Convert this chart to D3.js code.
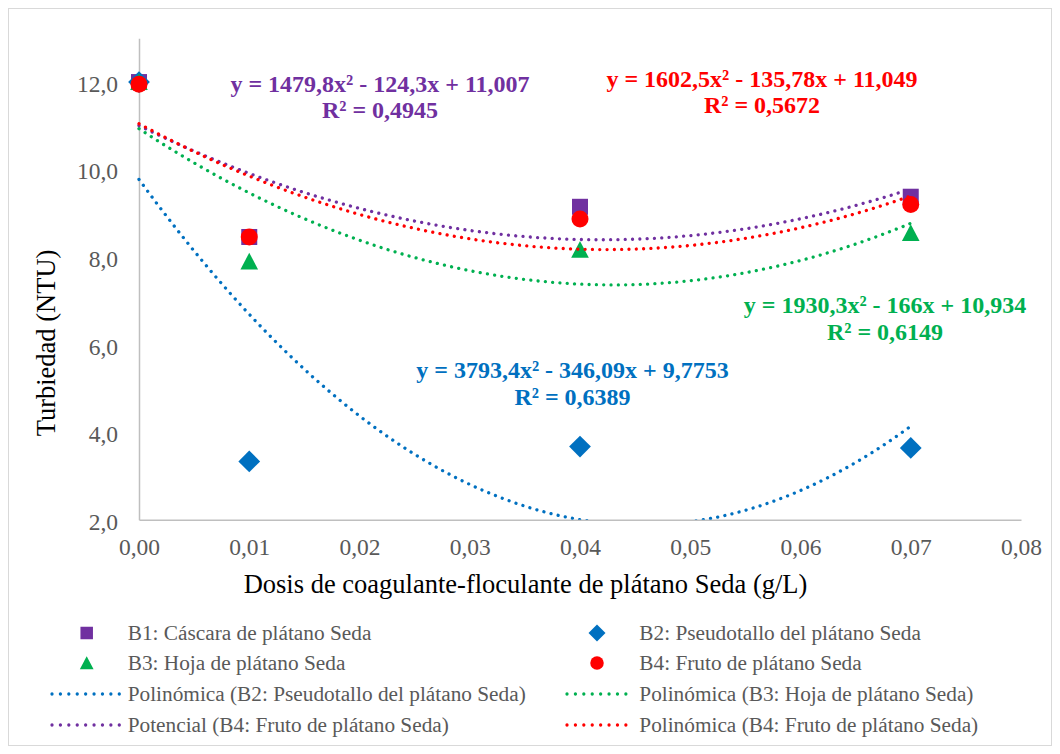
<!DOCTYPE html>
<html>
<head>
<meta charset="utf-8">
<script src="https://cdn.jsdelivr.net/npm/d3@7"></script>
<style>
  body { margin: 0; background: #fff; }
  svg { display: block; }
</style>
</head>
<body>
<svg id="chart" width="1060" height="754"></svg>
<script>
// ---- Data ----
const doses = [0, 0.01, 0.04, 0.07];
const seriesNames = [
  "B1: Cáscara de plátano Seda",
  "B2: Pseudotallo del plátano Seda",
  "B3: Hoja de plátano Seda",
  "B4: Fruto de plátano Seda"
];
const b1Values = [12.0, 8.46, 9.15, 9.38];
const b2Values = [12.0, 3.33, 3.67, 3.64];
const b3Values = [12.0, 7.90, 8.17, 8.55];
const b4Values = [11.95, 8.46, 8.87, 9.20];
const seriesColors = ["#7030A0", "#0070C0", "#00B050", "#FF0000"];
const markerShapes = ["square", "diamond", "triangle", "circle"];

// Trendline coefficients [a, b, c] for y = a x^2 + b x + c (as displayed on the chart)
const trendB1 = [1479.8, -124.3, 11.007];
const trendB2 = [3793.4, -346.09, 9.7753];
const trendB3 = [1930.3, -166, 10.934];
const trendB4 = [1602.5, -135.78, 11.049];
const trendNames = [
  "Polinómica (B2: Pseudotallo del plátano Seda)",
  "Polinómica (B3: Hoja de plátano Seda)",
  "Potencial (B4: Fruto de plátano Seda)",
  "Polinómica (B4: Fruto de plátano Seda)"
];
const trendLabels = [
  ["y = 1479,8x² - 124,3x + 11,007", "R² = 0,4945"],
  ["y = 3793,4x² - 346,09x + 9,7753", "R² = 0,6389"],
  ["y = 1930,3x² - 166x + 10,934", "R² = 0,6149"],
  ["y = 1602,5x² - 135,78x + 11,049", "R² = 0,5672"]
];
const xTicks = [0, 0.01, 0.02, 0.03, 0.04, 0.05, 0.06, 0.07, 0.08];
const yTicks = [2, 4, 6, 8, 10, 12];
const xTitle = "Dosis de coagulante-floculante de plátano Seda (g/L)";
const yTitle = "Turbiedad (NTU)";

// ---- Layout ----
const FONT = "Liberation Serif";
const svg = d3.select("#chart");
const W = 1060, H = 754;
const plot = { left: 139, right: 1021, top: 38.3, bottom: 519.7 };

svg.append("rect").attr("x", 8.5).attr("y", 8.5).attr("width", W - 17).attr("height", H - 17)
  .attr("fill", "#fff").attr("stroke", "#D9D9D9").attr("stroke-width", 1);

const x = d3.scaleLinear().domain([0, 0.08]).range([plot.left, plot.right]);
const y = d3.scaleLinear().domain([2, 13]).range([plot.bottom, plot.top]);

const fmtX = v => d3.format(".2f")(v).replace(".", ",");
const fmtY = v => d3.format(".1f")(v).replace(".", ",");

// axes
const xAxis = svg.append("g").attr("transform", `translate(0,${plot.bottom})`)
  .call(d3.axisBottom(x).tickValues(xTicks).tickFormat(fmtX).tickSize(0).tickPadding(19));
xAxis.attr("font-family", FONT).attr("font-size", 23.5);
xAxis.select(".domain").attr("stroke", "#BFBFBF").attr("stroke-width", 1.5);
xAxis.selectAll("text").attr("font-family", FONT).attr("font-size", 23.5).attr("fill", "#595959");

const yAxis = svg.append("g").attr("transform", `translate(${plot.left},0)`)
  .call(d3.axisLeft(y).tickValues(yTicks).tickFormat(fmtY).tickSize(0).tickPadding(21));
yAxis.attr("font-family", FONT).attr("font-size", 23.5);
yAxis.select(".domain").attr("stroke", "#BFBFBF").attr("stroke-width", 1.5);
yAxis.selectAll("text").attr("font-family", FONT).attr("font-size", 23.5).attr("fill", "#595959")
  .attr("dy", "0.4em");

// axis titles
svg.append("text").attr("x", 525.5).attr("y", 593).attr("text-anchor", "middle")
  .attr("font-family", FONT).attr("font-size", 26.5).attr("fill", "#000").text(xTitle);
svg.append("text").attr("transform", `translate(55,${343}) rotate(-90)`).attr("text-anchor", "middle")
  .attr("font-family", FONT).attr("font-size", 26.5).attr("fill", "#000").text(yTitle);

// ---- markers ----
const allValues = [b1Values, b2Values, b3Values, b4Values];
function drawMarker(g, shape, cx, cy, s, color) {
  if (shape === "square") {
    g.append("rect").attr("x", cx - s / 2).attr("y", cy - s / 2).attr("width", s).attr("height", s)
      .attr("fill", color);
  } else if (shape === "diamond") {
    const r = s * 0.68;
    g.append("path").attr("d", `M${cx},${cy - r}L${cx + r},${cy}L${cx},${cy + r}L${cx - r},${cy}Z`)
      .attr("fill", color);
  } else if (shape === "triangle") {
    const h = s;
    g.append("path").attr("d", `M${cx},${cy - h * 0.55}L${cx + s * 0.55},${cy + h * 0.5}L${cx - s * 0.55},${cy + h * 0.5}Z`)
      .attr("fill", color);
  } else {
    g.append("circle").attr("cx", cx).attr("cy", cy).attr("r", s / 2 + 0.5).attr("fill", color);
  }
}
const markerG = svg.append("g");
allValues.forEach((vals, i) => {
  vals.forEach((v, j) => drawMarker(markerG, markerShapes[i], x(doses[j]), y(v), 16, seriesColors[i]));
});

// ---- trendlines ----
const trends = [trendB1, trendB2, trendB3, trendB4];
const xs = d3.range(0, 0.07 + 1e-9, 0.0005);
const clipId = "plotclip";
svg.append("clipPath").attr("id", clipId).append("rect")
  .attr("x", plot.left - 5).attr("y", plot.top).attr("width", plot.right - plot.left + 10)
  .attr("height", plot.bottom - plot.top);
const line = d3.line().x(d => x(d[0])).y(d => y(d[1]));
const trendOrder = [1, 2, 0, 3];
const trendG = svg.append("g").attr("clip-path", `url(#${clipId})`);
trendOrder.forEach(i => {
  const c = trends[i];
  const pts = xs.map(t => [t, c[0] * t * t + c[1] * t + c[2]]);
  trendG.append("path").attr("d", line(pts)).attr("fill", "none")
    .attr("stroke", seriesColors[i]).attr("stroke-width", 3.3)
    .attr("stroke-linecap", "round").attr("stroke-dasharray", "0.01 7.3");
});

// ---- equation labels ----
const labelPos = [[380, 91.5], [572.5, 378], [885, 313], [762, 86.5]];
trendLabels.forEach((lab, i) => {
  const t = svg.append("text").attr("text-anchor", "middle")
    .attr("font-family", FONT).attr("font-size", 24).attr("font-weight", "bold")
    .attr("fill", seriesColors[i]);
  t.append("tspan").attr("x", labelPos[i][0]).attr("y", labelPos[i][1]).text(lab[0]);
  t.append("tspan").attr("x", labelPos[i][0]).attr("y", labelPos[i][1] + 26.5).text(lab[1]);
});

// ---- legend ----
const rowsY = [633, 663, 694, 725];
const colMarkX = [86.7, 597];
const colTextX = [127.7, 639.3];
const colLine = [[52, 120], [567, 632]];
const legG = svg.append("g");
seriesNames.forEach((name, i) => {
  const col = i % 2, row = Math.floor(i / 2);
  drawMarker(legG, markerShapes[i], colMarkX[col], rowsY[row], 12.5, seriesColors[i]);
  legG.append("text").attr("x", colTextX[col]).attr("y", rowsY[row]).attr("dy", "0.35em")
    .attr("font-family", FONT).attr("font-size", 21.3).attr("fill", "#595959").text(name);
});
const trendColorIdx = [1, 2, 0, 3];
trendNames.forEach((name, k) => {
  const col = k % 2, row = 2 + Math.floor(k / 2);
  const [x0, x1] = colLine[col];
  legG.append("line").attr("x1", x0).attr("x2", x1).attr("y1", rowsY[row]).attr("y2", rowsY[row])
    .attr("stroke", seriesColors[trendColorIdx[k]]).attr("stroke-width", 3.3)
    .attr("stroke-linecap", "round").attr("stroke-dasharray", "0.01 8.4");
  legG.append("text").attr("x", colTextX[col]).attr("y", rowsY[row]).attr("dy", "0.35em")
    .attr("font-family", FONT).attr("font-size", 21.3).attr("fill", "#595959").text(name);
});
</script>
</body>
</html>
